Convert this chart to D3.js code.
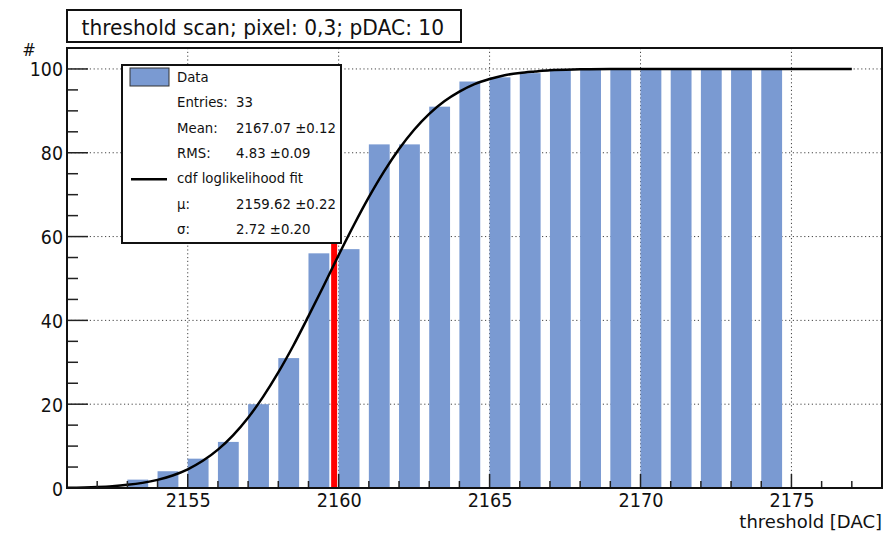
<!DOCTYPE html>
<html><head><meta charset="utf-8">
<script src="https://cdn.jsdelivr.net/npm/d3@7"></script>
<style>
html,body{margin:0;padding:0;background:#fff;}
svg{display:block;font-family:"DejaVu Sans",sans-serif;}
</style></head>
<body><svg id="c" width="895" height="533"></svg>
<script>
// ---- data ----
const binStarts = [2153,2154,2155,2156,2157,2158,2159,2160,2161,2162,2163,2164,2165,2166,2167,2168,2169,2170,2171,2172,2173,2174];
const binCounts = [2,4,7,11,20,31,56,57,82,82,91,97,98,99,100,100,100,100,100,100,100,100];
// fit curve points
const fitX = [2151,2152,2152.5,2153,2153.5,2154,2154.5,2155,2155.5,2156,2156.5,2157,2157.5,2158,2158.5,2159,2159.5,2160,2160.5,2161,2161.5,2162,2162.5,2163,2163.5,2164,2164.5,2165,2165.5,2166,2166.5,2167,2168,2169,2177];
const fitY = [0.05,0.25,0.44,0.75,1.22,1.94,2.99,4.47,6.49,9.16,12.57,16.78,21.8,27.57,34.0,41.0,48.2,55.6,62.7,69.4,75.5,80.9,85.5,89.3,92.3,94.6,96.4,97.6,98.5,99.05,99.4,99.7,99.9,100,100];
const markerX = 2159.85;
const xTicks = [2155,2160,2165,2170,2175];
const yTicks = [0,20,40,60,80,100];
const titleText = "threshold scan; pixel: 0,3; pDAC: 10";
const xLabel = "threshold [DAC]";
const yLabel = "#";
const legendRows = [
  {type:"box", label:"Data", value:""},
  {type:"none", label:"Entries:", value:"33"},
  {type:"none", label:"Mean:", value:"2167.07 \u00b10.12"},
  {type:"none", label:"RMS:", value:"4.83 \u00b10.09"},
  {type:"line", label:"cdf loglikelihood fit", value:""},
  {type:"none", label:"\u03bc:", value:"2159.62 \u00b10.22"},
  {type:"none", label:"\u03c3:", value:"2.72 \u00b10.20"}
];

// ---- layout ----
const L=67, R=882, T=48, B=488;
const svg = d3.select("#c");
const x = d3.scaleLinear().domain([2151,2178]).range([L,R]);
const y = d3.scaleLinear().domain([0,105]).range([B,T]);
const barColor = "#7a9ad2";

function txt(g, tx, ty, s, size, sx, anchor){
  return g.append("text").attr("transform",`translate(${tx},${ty}) scale(${sx},1)`)
    .attr("font-size",size).attr("fill","#111").attr("text-anchor",anchor||"start").text(s);
}

// grid
const grid = svg.append("g").attr("stroke","#444").attr("stroke-width",1).attr("stroke-dasharray","1.2,2.6");
grid.selectAll("line.gx").data(xTicks).join("line").attr("class","gx")
  .attr("x1",d=>x(d)).attr("x2",d=>x(d)).attr("y1",T).attr("y2",B);
grid.selectAll("line.gy").data(yTicks.filter(d=>d>0)).join("line").attr("class","gy")
  .attr("x1",L).attr("x2",R).attr("y1",d=>y(d)).attr("y2",d=>y(d));

// bars
svg.append("g").selectAll("rect").data(binStarts).join("rect")
  .attr("x",d=>x(d)).attr("width",x(2151.69)-x(2151))
  .attr("y",(d,i)=>y(binCounts[i])).attr("height",(d,i)=>B-y(binCounts[i]))
  .attr("fill",barColor);

// red marker
svg.append("line").attr("x1",x(markerX)).attr("x2",x(markerX)).attr("y1",y(0)).attr("y2",y(100))
  .attr("stroke","#ff0000").attr("stroke-width",6);

// fit curve
const pts = fitX.map((v,i)=>[v,fitY[i]]);
svg.append("path").datum(pts)
  .attr("d",d3.line().x(d=>x(d[0])).y(d=>y(d[1])).curve(d3.curveMonotoneX))
  .attr("fill","none").attr("stroke","#000").attr("stroke-width",2.5);

// axes ticks
const yMinor = d3.range(0,105,5);
svg.append("g").selectAll("line").data(yMinor).join("line")
  .attr("x1",L).attr("x2",d=>L+(d%20===0?21:11)).attr("y1",d=>y(d)).attr("y2",d=>y(d))
  .attr("stroke","#222").attr("stroke-width",1.5);
const xMinor = d3.range(2152,2178,1);
svg.append("g").selectAll("line").data(xMinor).join("line")
  .attr("x1",d=>x(d)).attr("x2",d=>x(d)).attr("y1",B).attr("y2",d=>B-(d%5===0?14:7))
  .attr("stroke","#222").attr("stroke-width",1.5);

// frame
svg.append("rect").attr("x",L).attr("y",T).attr("width",R-L).attr("height",B-T)
  .attr("fill","none").attr("stroke","#111").attr("stroke-width",2);

// tick labels
const gxl = svg.append("g");
xTicks.forEach(d=>txt(gxl, x(d)+0.5, 507, d, 19, 0.93, "middle"));
const gyl = svg.append("g");
yTicks.forEach(d=>txt(gyl, 63, y(d)+7.5, d, 20, 0.87, "end"));

// axis labels
txt(svg, 882, 528, xLabel, 18, 1.0, "end");
txt(svg, 29, 56, yLabel, 18, 0.9, "middle");

// title
svg.append("rect").attr("x",67).attr("y",10).attr("width",394).attr("height",32)
  .attr("fill","#fff").attr("stroke","#111").attr("stroke-width",2);
txt(svg, 81.5, 35, titleText, 21.5, 0.94, "start");

// legend
const lg = svg.append("g");
lg.append("rect").attr("x",122).attr("y",65).attr("width",219).attr("height",178)
  .attr("fill","#fff").attr("stroke","#111").attr("stroke-width",2);
const rowY = d3.scaleLinear().domain([0,6]).range([82,234]);
legendRows.forEach((r,i)=>{
  const yy = rowY(i);
  if(r.type==="box"){
    lg.append("rect").attr("x",130).attr("y",yy-14).attr("width",39).attr("height",18)
      .attr("fill",barColor).attr("stroke","#333").attr("stroke-width",1);
  } else if(r.type==="line"){
    lg.append("line").attr("x1",131).attr("x2",167).attr("y1",yy-4).attr("y2",yy-4)
      .attr("stroke","#000").attr("stroke-width",2.5);
  }
  txt(lg, 177, yy, r.label, 14, 0.95, "start");
  if(r.value) txt(lg, 236, yy, r.value, 14, 0.95, "start");
});
</script></body></html>
